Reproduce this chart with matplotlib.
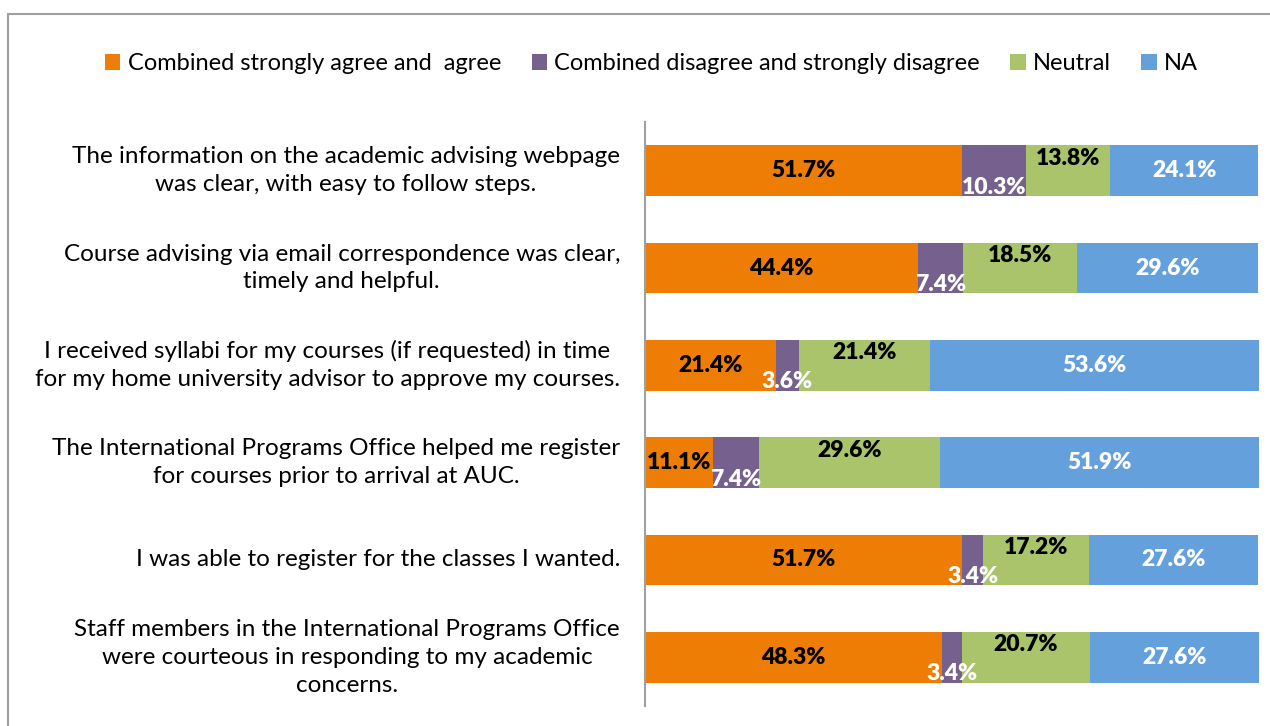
import matplotlib.pyplot as plt
from matplotlib.patches import Rectangle

plt.rcParams['font.family'] = ['Lato', 'DejaVu Sans']

# survey statements, top to bottom
questions = [
    "The information on the academic advising webpage\nwas clear, with easy to follow steps.",
    "Course advising via email correspondence was clear,\ntimely and helpful.",
    "I received syllabi for my courses (if requested) in time\nfor my home university advisor to approve my courses.",
    "The International Programs Office helped me register\nfor courses prior to arrival at AUC.",
    "I was able to register for the classes I wanted.",
    "Staff members in the International Programs Office\nwere courteous in responding to my academic\nconcerns.",
]
series_names = ["Combined strongly agree and  agree",
                "Combined disagree and strongly disagree",
                "Neutral", "NA"]
agree = [51.7, 44.4, 21.4, 11.1, 51.7, 48.3]
disagree = [10.3, 7.4, 3.6, 7.4, 3.4, 3.4]
neutral = [13.8, 18.5, 21.4, 29.6, 17.2, 20.7]
na = [24.1, 29.6, 53.6, 51.9, 27.6, 27.6]

colors = ["#ED7D05", "#76608D", "#A9C46B", "#64A0DC"]
label_colors = ["black", "white", "black", "white"]
label_shift = [0.0, 0.17, -0.13, 0.0]  # Excel-like label placement

fig = plt.figure(figsize=(12.7, 7.26), dpi=100)
# outer chart border
fig.patches.append(Rectangle((8 / 1270, -0.05), 1.2, 1 - 14 / 726 + 0.05,
                             transform=fig.transFigure, fill=False,
                             edgecolor="#A0A0A0", linewidth=1.5))

ax = fig.add_axes([645 / 1270, 1 - 706 / 726, (1259 - 645) / 1270, (706 - 122) / 726])

ypos = list(range(len(questions)))
left = [0.0] * len(questions)
handles = []
for vals, name, col, lc, sh in zip([agree, disagree, neutral, na], series_names,
                                   colors, label_colors, label_shift):
    bars = ax.barh(ypos, vals, left=left, height=0.52, color=col, label=name)
    handles.append(bars)
    for y, v, l in zip(ypos, vals, left):
        ax.text(l + v / 2, y + sh, f"{v}%", ha="center", va="center",
                color=lc, fontsize=16.5, fontweight="heavy")
    left = [a + b for a, b in zip(left, vals)]

ax.set_xlim(0, 100)
ax.set_ylim(len(questions) - 0.5, -0.5)
ax.set_xticks([])
ax.set_yticks([])
for s in ["top", "right", "bottom"]:
    ax.spines[s].set_visible(False)
ax.spines["left"].set_color("#A0A0A0")
ax.spines["left"].set_linewidth(1.5)

for y, q in zip(ypos, questions):
    ax.text(-25 / 614 * 100, y, q, ha="right", va="center", multialignment="center",
            fontsize=17.5, linespacing=1.4, clip_on=False)

fig.legend(handles=handles, loc="center", bbox_to_anchor=(0.513, 1 - 64 / 726),
           ncol=4, frameon=False, fontsize=17, handlelength=0.65, handleheight=0.65,
           handletextpad=0.3, columnspacing=1.3)

fig.savefig("out.png", dpi=100)
